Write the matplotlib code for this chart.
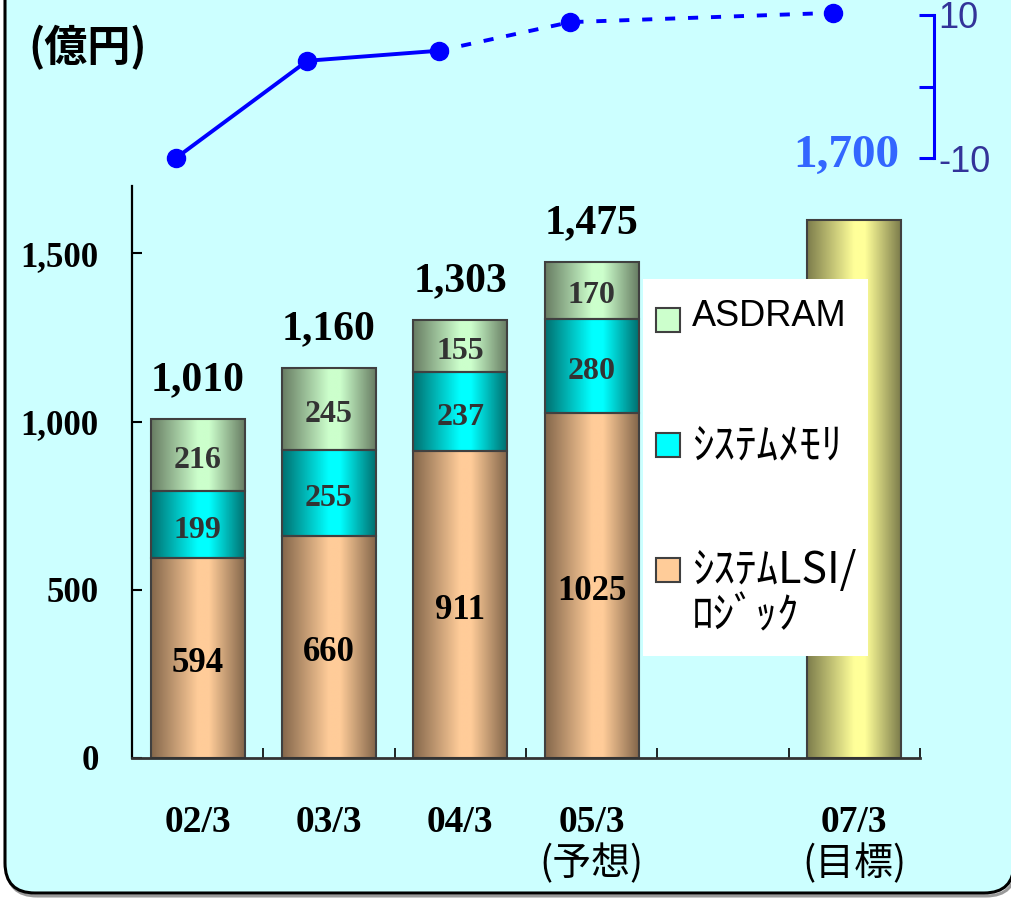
import numpy as np
import matplotlib.pyplot as plt
from matplotlib.colors import LinearSegmentedColormap
from matplotlib.patches import FancyBboxPatch, Rectangle
from matplotlib.transforms import blended_transform_factory

# data
periods = ['02/3', '03/3', '04/3', '05/3', '07/3']
period_x = [0, 1, 2, 3, 5]
notes = {3: '(予想)', 5: '(目標)'}
lsi = [594, 660, 911, 1025]
memory = [199, 255, 237, 280]
asdram = [216, 245, 155, 170]
totals = ['1,010', '1,160', '1,303', '1,475']
target = 1600
target_label = '1,700'
growth = [-10, 3.6, 5.0, 9.0, 10.3]

SERIF = 'Liberation Serif'
CJK = 'Noto Sans CJK JP'
H = 898

def px(x, y):
    return x / 100, (H - y) / 100

fig = plt.figure(figsize=(10.12, 8.98), dpi=100)
fig.patch.set_facecolor('white')
# drop shadow + rounded frame
shadow = FancyBboxPatch(px(7, 896), 10.09, 9.6, boxstyle='round,pad=0,rounding_size=0.3',
                        transform=fig.dpi_scale_trans, facecolor='none',
                        edgecolor='#9a9a9a', linewidth=2.2, zorder=-6)
frame = FancyBboxPatch(px(5, 893), 10.09, 9.6, boxstyle='round,pad=0,rounding_size=0.3',
                       transform=fig.dpi_scale_trans, facecolor='#ccffff',
                       edgecolor='black', linewidth=2.2, zorder=-5)
fig.patches.extend([shadow, frame])

ax = fig.add_axes([132 / 1012, 1 - 758 / H, 788 / 1012, 572 / H])
ax.patch.set_visible(False)

w = 0.715
x = np.arange(len(lsi))
b1 = ax.bar(x, lsi, w)
b2 = ax.bar(x, memory, w, bottom=lsi)
b3 = ax.bar(x, asdram, w, bottom=np.add(lsi, memory))
b4 = ax.bar([5], [target], w)

def shade(bars, light, dark):
    cmap = LinearSegmentedColormap.from_list('', [(0, dark), (0.5, light), (0.62, light), (1, dark)])
    for p in bars:
        x0, y0, pw, ph = p.get_x(), p.get_y(), p.get_width(), p.get_height()
        p.set_facecolor('none'); p.set_edgecolor('#404040'); p.set_linewidth(1.5); p.set_zorder(2)
        im = ax.imshow(np.linspace(0, 1, 200)[None, :], cmap=cmap, extent=(x0, x0 + pw, y0, y0 + ph),
                       aspect='auto', zorder=1, interpolation='bilinear')
        im.set_clip_path(p)

shade(b1, '#ffcc99', '#84674b')
shade(b2, '#00ffff', '#007070')
shade(b3, '#ccffcc', '#687d63')
shade(b4, '#ffff99', '#7d7d4c')

# segment values, nudged a little below centre like the original
for bars, vals, fs, col in [(b1, lsi, 25, 'black'), (b2, memory, 23, '#333333'), (b3, asdram, 23, '#333333')]:
    for p, v in zip(bars, vals):
        ax.annotate(str(v), (p.get_x() + p.get_width() / 2, p.get_y() + p.get_height() / 2),
                    xytext=(0, -4), textcoords='offset points', ha='center', va='center',
                    fontsize=fs, fontweight='bold', family=SERIF, color=col)
ax.bar_label(b3, labels=totals, padding=14, fontsize=30, fontweight='bold', family=SERIF, color='black')
tl = ax.bar_label(b4, labels=[target_label], padding=31, fontsize=34, fontweight='bold', family=SERIF,
                  color='#3366ff')
tl[0].xyann = (-6, 31)

ax.set_xlim(-0.5, 5.5)
ax.set_ylim(0, 1700)
ax.set_yticks([0, 500, 1000, 1500], ['0', '500', '1,000', '1,500'])
ax.tick_params(axis='y', direction='in', length=7, width=1.5, pad=24, labelsize=25)
ax.set_xticks(period_x, periods)
ax.tick_params(axis='x', length=0, pad=34, labelsize=27)
ax.set_xticks(np.arange(0.5, 6, 1), minor=True)
ax.tick_params(axis='x', which='minor', direction='in', length=7, width=1.2)
for lab in ax.get_xticklabels() + ax.get_yticklabels():
    lab.set_fontweight('bold'); lab.set_family(SERIF)
for s in ['top', 'right']:
    ax.spines[s].set_visible(False)
ax.spines['left'].set_linewidth(1.6)
ax.spines['bottom'].set_linewidth(2.0)
ax.spines['bottom'].set_color('#333333')

tr = blended_transform_factory(ax.transData, ax.transAxes)
for k, s in notes.items():
    ax.text(k, -0.185, s, transform=tr, ha='center', va='center', fontsize=28, family=CJK)

fig.text(*px(28, 48), '(億円)', transform=fig.dpi_scale_trans, ha='left', va='center',
         fontsize=31, fontweight='bold', family=CJK)

# growth line
ax2 = fig.add_axes([132 / 1012, 1 - 158 / H, 802 / 1012, 143 / H])
ax2.patch.set_visible(False)
ax2.set_xlim(-0.335, 5.769)
ax2.set_ylim(-10, 10)
ax2.plot(period_x[:3], growth[:3], color='#0000ff', lw=2.8, clip_on=False)
ax2.plot(period_x[2:], growth[2:], color='#0000ff', lw=2.8, ls=(0, (2.6, 3.3)), clip_on=False)
ax2.plot(period_x, growth, 'o', color='#0000ff', ms=13, clip_on=False)
for s in ['top', 'left', 'bottom']:
    ax2.spines[s].set_visible(False)
ax2.spines['right'].set_color('#0000ff')
ax2.spines['right'].set_linewidth(2.2)
ax2.set_xticks([])
ax2.yaxis.tick_right()
ax2.set_yticks([-10, 0, 10], ['-10', '', '10'])
ax2.tick_params(axis='y', direction='in', length=11, width=2.2, color='#0000ff',
                labelcolor='#333399', labelsize=26, pad=3)
for lab in ax2.get_yticklabels():
    lab.set_family('Liberation Sans')

# legend
fig.add_artist(Rectangle(px(643, 656), 2.25, 3.77, transform=fig.dpi_scale_trans,
                         facecolor='white', edgecolor='none', zorder=3))
entries = [('ASDRAM', '#ccffcc', 320, 'Liberation Sans', 26),
           ('ｼｽﾃﾑﾒﾓﾘ', '#00ffff', 445, CJK, 31),
           ('ｼｽﾃﾑLSI/\nﾛｼﾞｯｸ', '#ffcc99', 570, CJK, 31)]
for label, col, yc, fam, fs in entries:
    fig.add_artist(Rectangle(px(656, yc + 12), 0.24, 0.24, transform=fig.dpi_scale_trans,
                             facecolor=col, edgecolor='#404040', linewidth=1.5, zorder=4))
    fig.text(*px(692, yc - 21), label, transform=fig.dpi_scale_trans, ha='left', va='top',
             fontsize=fs, family=fam, zorder=4, linespacing=1.05)

fig.savefig('out.png', dpi=100)
